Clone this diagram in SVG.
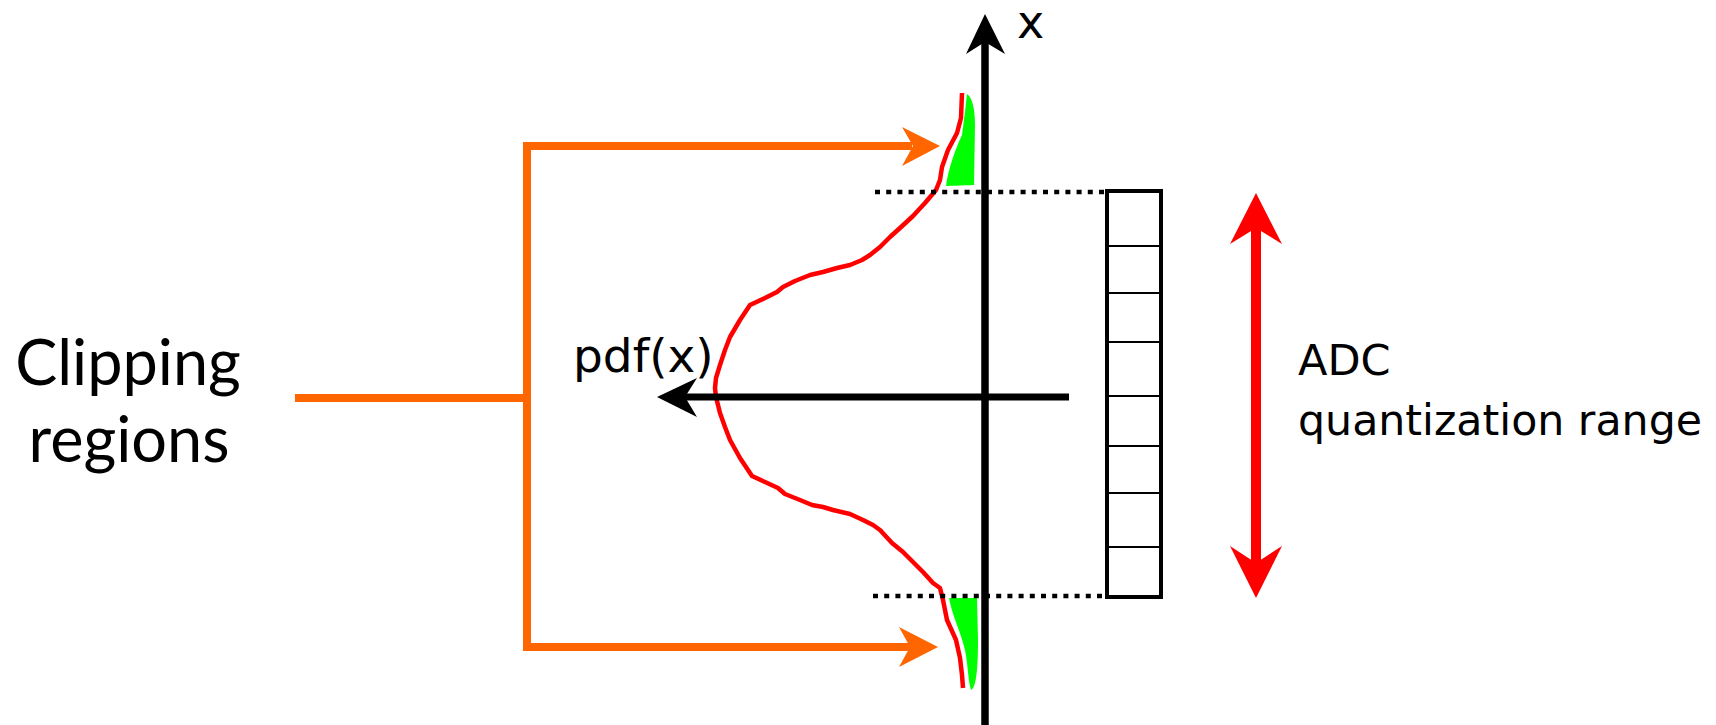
<svg xmlns="http://www.w3.org/2000/svg" width="1716" height="725" viewBox="0 0 1716 725">
<style>
.lbl{font-family:"DejaVu Sans",sans-serif;fill:#000}
.clip{font-family:Lato,"Open Sans",sans-serif;fill:#000;font-size:63px;text-anchor:middle}
.orange{fill:none;stroke:#ff6600;stroke-width:8}
.ohead{fill:#ff6600}
.dots{fill:none;stroke:#000;stroke-width:4.5;stroke-dasharray:5 6.2}
.cell{stroke:#000;stroke-width:2}
</style>
<rect width="1716" height="725" fill="#fff"/>
<g id="pdf-fills">
<path d="M967,94 C972,97 975,108 975,125 L974,185 L946,186 C948,170 955,150 962,135 L965,112 Z" fill="#00ff00"/>
<path d="M949,598 L977,598 L978,640 C978,670 976,688 971,690 C968,680 968,665 965,650 C960,630 952,615 949,598 Z" fill="#00ff00"/>
</g>
<g id="pdf-curve">
<polyline fill="none" stroke="#ff0000" stroke-width="4.5" stroke-linejoin="round" points="962,93 961,118 957,133 948,150 942,167 940,180 936,190 925,203 913,216 900,228 890,237 880,247 870,255 862,260 850,265 837,268 823,272 810,275 795,281 783,287 777,292 765,298 750,305 740,320 730,337 725,350 720,365 716,378 715,388 716,397 720,413 725,427 730,440 740,458 752,476 765,482 778,488 785,494 800,500 812,505 823,507 833,510 850,514 863,520 873,525 880,530 892,543 903,552 913,562 923,572 933,583 940,588 943,600 947,620 956,640 960,658 962,675 963,688"/>
</g>
<g id="connectors">
<line class="dots" x1="875" y1="192" x2="1107" y2="192"/>
<line class="dots" x1="873" y1="596" x2="1107" y2="596"/>
<path class="orange" d="M295,398 L527,398"/>
<path class="orange" d="M912,146 L527,146 L527,647 L910,647" stroke-linejoin="miter"/>
<polygon class="ohead" points="940,146 902,127 913,146 902,166"/>
<polygon class="ohead" points="938,647 899,627 910,647 899,667"/>
<line x1="985" y1="725" x2="985" y2="40" stroke="#000" stroke-width="7.5"/>
<polygon points="985,14 966,54 985,42 1005,54" fill="#000"/>
<line x1="1069" y1="397" x2="684" y2="397" stroke="#000" stroke-width="7"/>
<polygon points="657,397 697,378 685,397 697,417" fill="#000"/>
<line x1="1256" y1="226" x2="1256" y2="565" stroke="#ff0000" stroke-width="10"/>
<polygon points="1256,193 1230,244 1256,228 1282,244" fill="#ff0000"/>
<polygon points="1256,598 1230,546 1256,563 1282,546" fill="#ff0000"/>
</g>
<g id="adc-register">
<rect x="1107" y="191" width="54" height="406" fill="none" stroke="#000" stroke-width="4"/>
<line class="cell" x1="1107" y1="246" x2="1161" y2="246"/>
<line class="cell" x1="1107" y1="293" x2="1161" y2="293"/>
<line class="cell" x1="1107" y1="342" x2="1161" y2="342"/>
<line class="cell" x1="1107" y1="396" x2="1161" y2="396"/>
<line class="cell" x1="1107" y1="446" x2="1161" y2="446"/>
<line class="cell" x1="1107" y1="493" x2="1161" y2="493"/>
<line class="cell" x1="1107" y1="547" x2="1161" y2="547"/>
</g>
<g id="label-x"><text class="lbl" x="1017" y="38" font-size="46">x</text></g>
<g id="label-pdf"><text class="lbl" x="573" y="372" font-size="47">pdf(x)</text></g>
<g id="label-adc">
<text class="lbl" x="1298" y="375" font-size="43">ADC</text>
<text class="lbl" x="1298" y="435" font-size="43" textLength="404" lengthAdjust="spacingAndGlyphs">quantization range</text>
</g>
<g id="label-clipping">
<text class="clip" x="128" y="385">Clipping</text>
<text class="clip" x="129" y="462">regions</text>
</g>
</svg>
